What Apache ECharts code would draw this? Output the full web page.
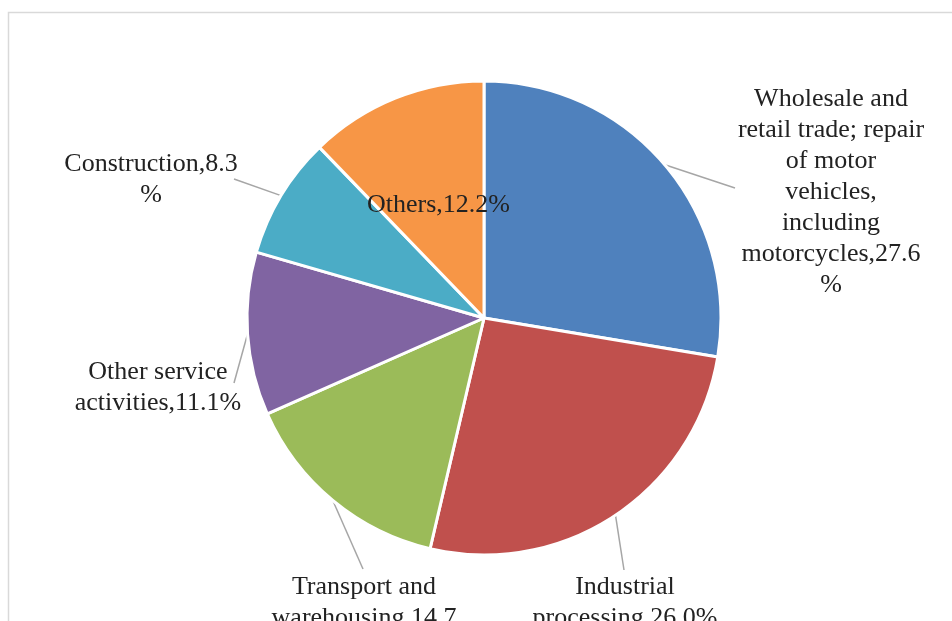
<!DOCTYPE html>
<html>
<head>
<meta charset="utf-8">
<script src="https://cdn.jsdelivr.net/npm/echarts@6/dist/echarts.min.js"></script>
<style>
  html, body { margin: 0; padding: 0; background: #ffffff; }
  #chart { width: 952px; height: 621px; }
</style>
</head>
<body>
<div id="chart"></div>
<script>
// Share of enterprises by industry (%), clockwise from 12 o'clock
const categories = [
  'Wholesale and retail trade; repair of motor vehicles, including motorcycles',
  'Industrial processing',
  'Transport and warehousing',
  'Other service activities',
  'Construction',
  'Others'
];
const shares = [27.6, 26.0, 14.7, 11.1, 8.3, 12.2];

// Wrapped label name lines, and whether the "%" sign drops to its own line
const nameLines = [
  'Wholesale and\nretail trade; repair\nof motor\nvehicles,\nincluding\nmotorcycles',
  'Industrial\nprocessing',
  'Transport and\nwarehousing',
  'Other service\nactivities',
  'Construction',
  'Others'
];
const percentOnNewLine = [true, false, true, false, true, false];

const colors = ['#4F81BD', '#C0504D', '#9BBB59', '#8064A2', '#4BACC6', '#F79646'];

// Label anchor (centre x, top y) and leader-line end for the outside labels
const labelSpots = [[831, 84], [625, 572], [364, 572], [158, 357], [151, 149], null];
const leaderEnds = [[735, 188], [624, 570], [363, 569], [234, 383], [234, 179], null];

const chart = echarts.init(document.getElementById('chart'), null, { renderer: 'canvas' });

const data = categories.map((name, i) => {
  const item = { name: name, value: shares[i], itemStyle: { color: colors[i] } };
  if (!labelSpots[i]) {
    item.label = { position: 'inside' };
    item.labelLine = { show: false };
  }
  return item;
});

chart.setOption({
  backgroundColor: '#ffffff',
  animation: false,
  graphic: [{
    type: 'rect',
    shape: { x: 8.5, y: 12.5, width: 1000, height: 700 },
    style: { fill: 'none', stroke: '#d9d9d9', lineWidth: 1.5 },
    silent: true
  }],
  series: [{
    type: 'pie',
    center: [484, 318],
    radius: 237,
    startAngle: 90,
    clockwise: true,
    avoidLabelOverlap: false,
    itemStyle: { borderColor: '#ffffff', borderWidth: 3 },
    label: {
      show: true,
      position: 'outside',
      fontFamily: '"Liberation Serif", "Times New Roman", serif',
      fontSize: 26,
      lineHeight: 31,
      color: '#222222',
      align: 'center',
      formatter: function (p) {
        const i = p.dataIndex;
        return nameLines[i] + ',' + shares[i].toFixed(1) + (percentOnNewLine[i] ? '\n%' : '%');
      }
    },
    labelLine: {
      show: true,
      length: 20,
      length2: 10,
      lineStyle: { color: '#a6a6a6', width: 1.5 }
    },
    labelLayout: function (p) {
      const spot = labelSpots[p.dataIndex];
      if (!spot) return {};
      const out = { x: spot[0], y: spot[1], align: 'center', verticalAlign: 'top' };
      if (p.labelLinePoints) {
        out.labelLinePoints = [p.labelLinePoints[0], leaderEnds[p.dataIndex]];
      }
      return out;
    },
    emphasis: { disabled: true },
    data: data
  }]
});
</script>
</body>
</html>
